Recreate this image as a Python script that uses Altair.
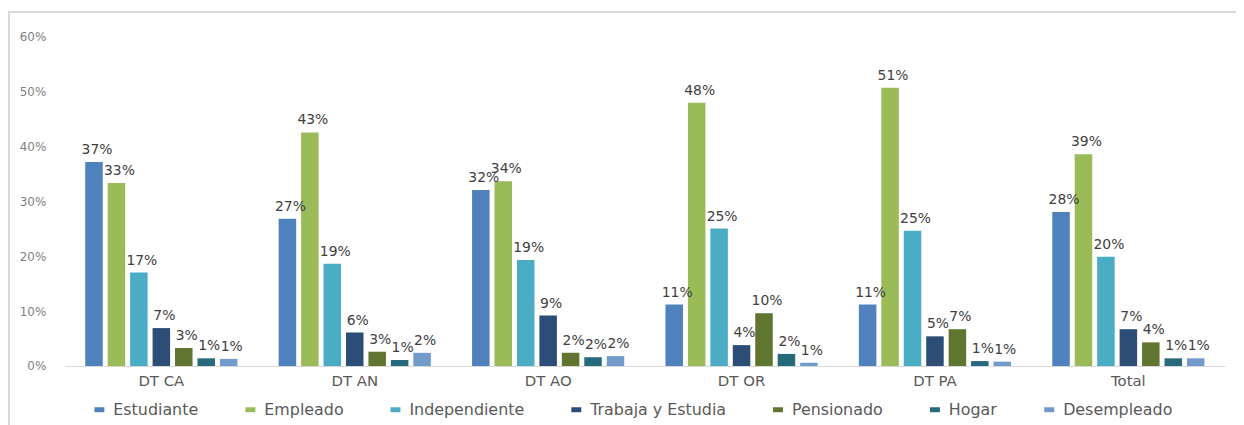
import altair as alt
import pandas as pd

categories = ["DT CA", "DT AN", "DT AO", "DT OR", "DT PA", "Total"]
series = ["Estudiante", "Empleado", "Independiente", "Trabaja y Estudia",
          "Pensionado", "Hogar", "Desempleado"]
colors = ["#4F81BD", "#9BBB59", "#4BACC6", "#2C4D75", "#5F7530", "#276A7C", "#729ACA"]

estudiante = [0.371, 0.268, 0.320, 0.112, 0.112, 0.280]
empleado = [0.333, 0.425, 0.336, 0.479, 0.506, 0.385]
independiente = [0.170, 0.186, 0.193, 0.250, 0.246, 0.199]
trabaja_estudia = [0.069, 0.061, 0.092, 0.038, 0.054, 0.067]
pensionado = [0.033, 0.026, 0.024, 0.096, 0.067, 0.043]
hogar = [0.014, 0.011, 0.016, 0.022, 0.009, 0.014]
desempleado = [0.013, 0.024, 0.018, 0.006, 0.008, 0.014]

values = [estudiante, empleado, independiente, trabaja_estudia, pensionado, hogar, desempleado]
rows = []
for s, vals in zip(series, values):
    for c, v in zip(categories, vals):
        rows.append({"Categoria": c, "Serie": s, "Valor": v})
df = pd.DataFrame(rows)

FONT = "DejaVu Sans"

x_enc = alt.X("Categoria:N", sort=categories, title=None,
              scale=alt.Scale(paddingInner=0.19, paddingOuter=0.095),
              axis=alt.Axis(labelAngle=0, ticks=False, domain=True, domainColor="#D9D9D9",
                            domainWidth=1, labelFontSize=15, labelColor="#595959",
                            labelFont=FONT, labelPadding=8))
xoff_enc = alt.XOffset("Serie:N", sort=series,
                       scale=alt.Scale(paddingInner=0.22, paddingOuter=0.1))
y_enc = alt.Y("Valor:Q", title=None,
              scale=alt.Scale(domain=[0, 0.6], nice=False),
              axis=alt.Axis(format=".0%", values=[0, 0.1, 0.2, 0.3, 0.4, 0.5, 0.6],
                            grid=False, ticks=False, domain=False, labelFontSize=12,
                            labelColor="#7F7F7F", labelFont=FONT, labelPadding=19))

color_enc = alt.Color("Serie:N", sort=series,
                      scale=alt.Scale(domain=series, range=colors),
                      legend=alt.Legend(title=None, orient="none", direction="horizontal",
                                        columns=7, legendX=27, legendY=368,
                                        symbolType="M-1,-0.5L1,-0.5L1,0.5L-1,0.5Z",
                                        symbolSize=100, symbolStrokeWidth=0,
                                        labelFontSize=16, labelFont=FONT,
                                        labelColor="#595959", columnPadding=44,
                                        symbolOffset=0, labelOffset=6))

base = alt.Chart(df)

bars = base.mark_bar().encode(x=x_enc, xOffset=xoff_enc, y=y_enc, color=color_enc)

labels = base.mark_text(baseline="bottom", dy=-5, dx=3, fontSize=14, font=FONT,
                        color="#404040").encode(
    x=x_enc, xOffset=xoff_enc, y=y_enc,
    text=alt.Text("Valor:Q", format=".0%"))

frame_top = alt.Chart(df).mark_rule(color="#D9D9D9", strokeWidth=1.5).encode(
    x=alt.value(-57), x2=alt.value(1250), y=alt.value(-24))
frame_left = alt.Chart(df).mark_rule(color="#D9D9D9", strokeWidth=1.5).encode(
    x=alt.value(-56), y=alt.value(-24), y2=alt.value(420))

chart = alt.layer(frame_top, frame_left, bars, labels).properties(
    width=1168, height=332,
    autosize=alt.AutoSizeParams(type="none"),
    padding={"left": 57, "top": 27, "right": 11, "bottom": 58}
).configure(background="white", view=alt.ViewConfig(stroke=None))

chart.save("out.html", embed_options={"renderer": "svg", "actions": False})
